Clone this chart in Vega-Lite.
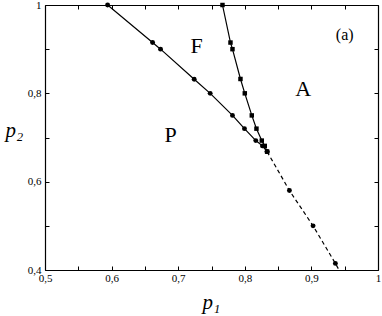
{
  "$schema": "https://vega.github.io/schema/vega-lite/v6.json",
  "width": 333,
  "height": 265,
  "autosize": {"type": "none"},
  "padding": {"left": 45, "top": 5, "right": 4, "bottom": 46},
  "background": "white",
  "config": {
    "view": {"stroke": null},
    "font": "Liberation Serif",
    "axis": {"grid": false, "domainColor": "black", "tickColor": "black", "domainWidth": 1.2, "tickWidth": 1, "labelFont": "Liberation Serif", "labelFontSize": 11, "labelColor": "black", "titleFont": "Liberation Serif", "titleColor": "black"}
  },
  "datasets": {
    "curves": [
      {"series": "pf", "x": 0.594, "y": 1.0},
      {"series": "pf", "x": 0.6615, "y": 0.915},
      {"series": "pf", "x": 0.6735, "y": 0.9},
      {"series": "pf", "x": 0.724, "y": 0.832},
      {"series": "pf", "x": 0.748, "y": 0.8},
      {"series": "pf", "x": 0.7815, "y": 0.75},
      {"series": "pf", "x": 0.7995, "y": 0.72},
      {"series": "pf", "x": 0.8165, "y": 0.693},
      {"series": "pf", "x": 0.8265, "y": 0.681},
      {"series": "pf", "x": 0.8335, "y": 0.668},
      {"series": "fa", "x": 0.7665, "y": 1.0},
      {"series": "fa", "x": 0.7785, "y": 0.915},
      {"series": "fa", "x": 0.7815, "y": 0.9},
      {"series": "fa", "x": 0.7935, "y": 0.8325},
      {"series": "fa", "x": 0.8, "y": 0.8},
      {"series": "fa", "x": 0.8105, "y": 0.75},
      {"series": "fa", "x": 0.8175, "y": 0.72},
      {"series": "fa", "x": 0.8255, "y": 0.693},
      {"series": "fa", "x": 0.83, "y": 0.681},
      {"series": "fa", "x": 0.8335, "y": 0.668},
      {"series": "pa", "x": 0.8335, "y": 0.668},
      {"series": "pa", "x": 0.867, "y": 0.58},
      {"series": "pa", "x": 0.9025, "y": 0.5},
      {"series": "pa", "x": 0.936, "y": 0.415},
      {"series": "pa", "x": 0.9415, "y": 0.4}
    ],
    "labels": [
      {"x": 0.7275, "y": 0.907, "label": "F", "size": "big"},
      {"x": 0.6885, "y": 0.706, "label": "P", "size": "big"},
      {"x": 0.8875, "y": 0.809, "label": "A", "size": "big"},
      {"x": 0.95, "y": 0.932, "label": "(a)", "size": "small"}
    ]
  },
  "resolve": {"axis": {"x": "independent", "y": "independent"}},
  "layer": [
    {
      "data": {"name": "curves"},
      "transform": [{"filter": "datum.series === 'pf'"}],
      "mark": {"type": "line", "color": "black", "strokeWidth": 1.2},
      "encoding": {
        "x": {"field": "x", "type": "quantitative", "scale": {"domain": [0.5, 1], "nice": false, "zero": false},
          "axis": {"orient": "bottom", "values": [0.5, 0.55, 0.6, 0.65, 0.7, 0.75, 0.8, 0.85, 0.9, 0.95, 1.0], "tickSize": -4, "labelPadding": 6,
            "labelExpr": "datum.value == 1 ? '1' : (abs(datum.value*10 - round(datum.value*10)) < 0.01 ? replace(format(datum.value, '.1f'), '.', ',') : '')",
            "labelFlush": false, "labelOverlap": false,
            "title": "p₁", "titleFontSize": 21, "titleFontStyle": "italic", "titleFontWeight": "normal", "titleBaseline": "alphabetic", "titleY": 38, "titleX": 166}},
        "y": {"field": "y", "type": "quantitative", "scale": {"domain": [0.4, 1], "nice": false, "zero": false},
          "axis": {"orient": "left", "values": [0.4, 0.5, 0.6, 0.7, 0.8, 0.9, 1.0], "tickSize": -4, "labelPadding": 8,
            "labelExpr": "datum.value == 1 ? '1' : (abs(datum.value*5 - round(datum.value*5)) < 0.01 ? replace(format(datum.value, '.1f'), '.', ',') : '')",
            "labelFlush": false, "labelOverlap": false,
            "title": "p₂", "titleFontSize": 21, "titleFontStyle": "italic", "titleFontWeight": "normal", "titleAngle": 0, "titleAlign": "center", "titleBaseline": "alphabetic", "titleX": -31, "titleY": 131}}
      }
    },
    {
      "data": {"name": "curves"},
      "transform": [{"filter": "datum.series === 'fa'"}],
      "mark": {"type": "line", "color": "black", "strokeWidth": 1.2},
      "encoding": {
        "x": {"field": "x", "type": "quantitative", "scale": {"domain": [0.5, 1], "nice": false, "zero": false},
          "axis": {"orient": "top", "values": [0.5, 0.55, 0.6, 0.65, 0.7, 0.75, 0.8, 0.85, 0.9, 0.95, 1.0], "tickSize": -4, "labels": false, "title": null}},
        "y": {"field": "y", "type": "quantitative", "scale": {"domain": [0.4, 1], "nice": false, "zero": false},
          "axis": {"orient": "right", "values": [0.4, 0.5, 0.6, 0.7, 0.8, 0.9, 1.0], "tickSize": -4, "labels": false, "title": null}}
      }
    },
    {
      "data": {"name": "curves"},
      "transform": [{"filter": "datum.series === 'pa'"}],
      "mark": {"type": "line", "color": "black", "strokeWidth": 1.2, "strokeDash": [4, 3]},
      "encoding": {
        "x": {"field": "x", "type": "quantitative", "axis": null},
        "y": {"field": "y", "type": "quantitative", "axis": null}
      }
    },
    {
      "data": {"name": "curves"},
      "transform": [{"filter": "datum.series !== 'fa' && datum.y > 0.405"}],
      "mark": {"type": "point", "shape": "circle", "filled": true, "color": "black", "opacity": 1, "size": 24},
      "encoding": {
        "x": {"field": "x", "type": "quantitative", "axis": null},
        "y": {"field": "y", "type": "quantitative", "axis": null}
      }
    },
    {
      "data": {"name": "curves"},
      "transform": [{"filter": "datum.series === 'fa'"}],
      "mark": {"type": "point", "shape": "square", "filled": true, "color": "black", "opacity": 1, "size": 20},
      "encoding": {
        "x": {"field": "x", "type": "quantitative", "axis": null},
        "y": {"field": "y", "type": "quantitative", "axis": null}
      }
    },
    {
      "data": {"name": "labels"},
      "transform": [{"filter": "datum.size === 'big'"}],
      "mark": {"type": "text", "font": "Liberation Serif", "fontSize": 22, "color": "black", "align": "center", "baseline": "middle"},
      "encoding": {
        "x": {"field": "x", "type": "quantitative", "axis": null},
        "y": {"field": "y", "type": "quantitative", "axis": null},
        "text": {"field": "label"}
      }
    },
    {
      "data": {"name": "labels"},
      "transform": [{"filter": "datum.size === 'small'"}],
      "mark": {"type": "text", "font": "Liberation Serif", "fontSize": 16, "color": "black", "align": "center", "baseline": "middle"},
      "encoding": {
        "x": {"field": "x", "type": "quantitative", "axis": null},
        "y": {"field": "y", "type": "quantitative", "axis": null},
        "text": {"field": "label"}
      }
    }
  ]
}
